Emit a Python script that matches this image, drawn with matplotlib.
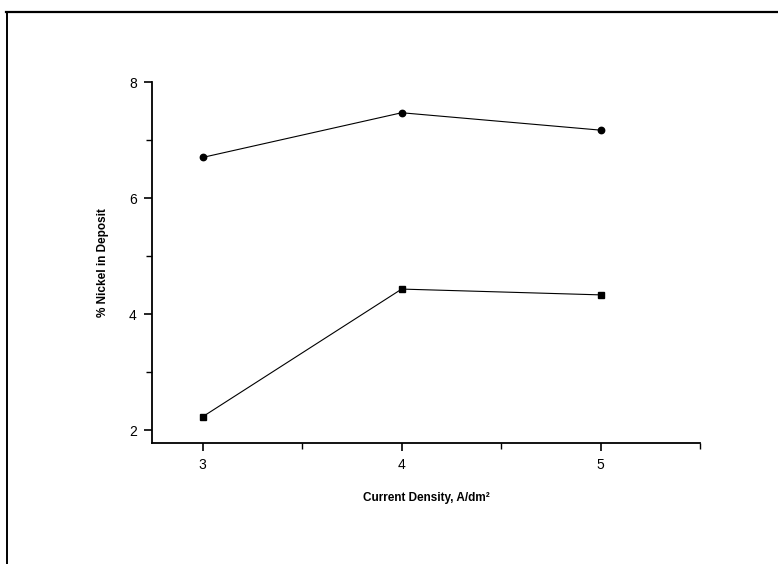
import matplotlib
matplotlib.use("Agg")
import matplotlib.pyplot as plt
from matplotlib.lines import Line2D
from matplotlib.ticker import MultipleLocator

plt.rcParams["font.family"] = ["Liberation Sans", "DejaVu Sans"]

# current density, A/dm2
current_density = [3, 4, 5]
# % nickel in deposit, two series
nickel_circles = [6.70, 7.47, 7.17]
nickel_squares = [2.23, 4.43, 4.33]

fig = plt.figure(figsize=(7.78, 5.64), dpi=100)
ax = fig.add_axes([0.1954, 0.2145, 0.7044, 0.6401])

ax.plot(current_density, nickel_circles, color="black", lw=0.8,
        marker="o", markersize=4.6)
ax.plot(current_density, nickel_squares, color="black", lw=0.8,
        marker="s", markersize=4.6)

ax.set_xlim(2.745, 5.5)
ax.set_ylim(1.776, 8.0)
ax.xaxis.set_major_locator(MultipleLocator(1))
ax.xaxis.set_minor_locator(MultipleLocator(0.5))
ax.yaxis.set_major_locator(MultipleLocator(2))
ax.yaxis.set_minor_locator(MultipleLocator(1))

for side in ["top", "right"]:
    ax.spines[side].set_visible(False)
for side in ["left", "bottom"]:
    ax.spines[side].set_linewidth(1.3)

ax.tick_params(which="major", direction="out", length=6, width=1.2,
               labelsize=10, pad=5)
ax.tick_params(which="minor", direction="out", length=4, width=1.0)

ax.set_xlabel("Current Density, A/dm²", fontsize=8.5, fontweight="bold",
              labelpad=14)
ax.set_ylabel("% Nickel in Deposit", fontsize=8.5, fontweight="bold",
              labelpad=14)

# frame lines of the scanned page
fig.add_artist(Line2D([6 / 778, 1.0], [1 - 12 / 564, 1 - 12 / 564],
                      transform=fig.transFigure, color="black", lw=1.6))
fig.add_artist(Line2D([7 / 778, 7 / 778], [0.0, 1 - 12 / 564],
                      transform=fig.transFigure, color="black", lw=1.4))

fig.savefig("out.png", dpi=100)
